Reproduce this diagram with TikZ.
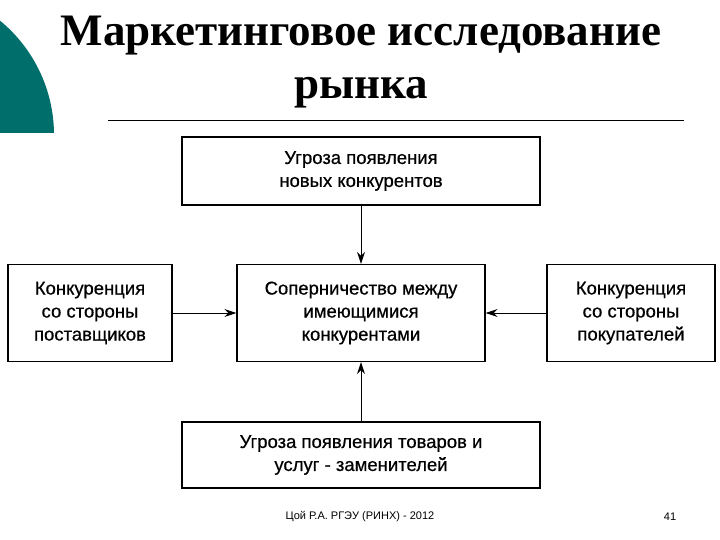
\documentclass[tikz,border=0pt]{standalone}
\usepackage{fontspec}
\setmainfont{Liberation Serif}
\newfontfamily\boxfont[FakeBold=0.6]{Liberation Sans}
\newfontfamily\footfont{Liberation Sans}
\usetikzlibrary{arrows.meta}
\definecolor{teal1}{RGB}{0,110,106}
\begin{document}
\begin{tikzpicture}[x=1pt,y=-1pt,
  bx/.style={draw,line width=1.3pt,font=\boxfont\fontsize{18.5}{23}\selectfont,align=center,inner sep=0pt},
  ar/.style={line width=1pt,-{Stealth[length=12pt,width=8pt]}}]
\useasboundingbox (0,0) rectangle (720,540);
\fill[white] (0,0) rectangle (720,540);
\begin{scope}
\clip (0,0) rectangle (720,133);
\fill[teal1] (-94,135) circle (148);
\end{scope}
\node[font=\bfseries\fontsize{45}{53}\selectfont,align=center,text=black] (title) at (361,62) {Маркетинговое исследование\\рынка};
\draw[line width=0.8pt] (108,120) -- (684,120);
\node[bx,minimum width=358,minimum height=68] (top) at (361,171) {Угроза появления\\новых конкурентов};
\node[bx,minimum width=248,minimum height=97] (mid) at (361,313) {Соперничество между\\имеющимися\\конкурентами};
\node[bx,minimum width=164,minimum height=97] (lft) at (90,313) {Конкуренция\\со стороны\\поставщиков};
\node[bx,minimum width=168,minimum height=97] (rgt) at (631,313) {Конкуренция\\со стороны\\покупателей};
\node[bx,minimum width=358,minimum height=66] (bot) at (361,455) {Угроза появления товаров и\\услуг - заменителей};
\draw[ar] (top) -- (mid);
\draw[ar] (bot) -- (mid);
\draw[ar] (lft) -- (mid);
\draw[ar] (rgt) -- (mid);
\node[font=\footfont\fontsize{11}{13}\selectfont] (ft) at (360,517) {Цой Р.А. РГЭУ (РИНХ) - 2012};
\node[font=\footfont\fontsize{11}{13}\selectfont] (pg) at (670,517) {41};
\end{tikzpicture}
\end{document}
